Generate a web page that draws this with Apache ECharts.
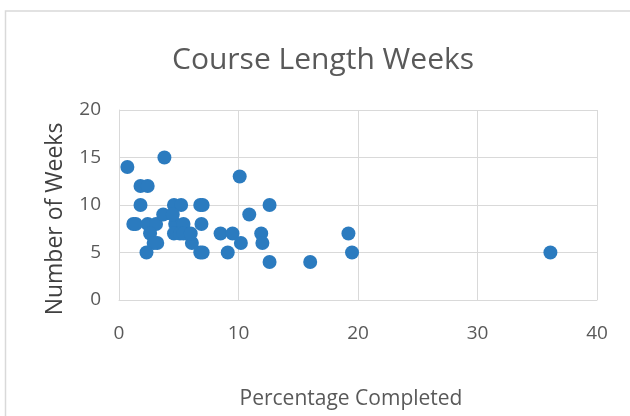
<!DOCTYPE html>
<html>
<head>
<meta charset="utf-8">
<script src="https://cdn.jsdelivr.net/npm/echarts@6/dist/echarts.min.js"></script>
<style>
  html, body { margin: 0; padding: 0; background: #fff; }
  #main { width: 630px; height: 416px; }
</style>
</head>
<body>
<div id="main"></div>
<script>
// percentage completed (x) and course length in weeks (y)
var pctCompleted = [0.7, 3.8, 1.8, 2.4, 1.8, 4.6, 5.2, 6.8, 7.0, 1.2, 1.4, 2.4, 3.1, 3.7, 4.7, 5.4, 6.9, 2.6, 3.2, 2.9, 4.6, 5.1, 5.4, 6.1, 2.3, 6.8, 7.0, 8.5, 9.1, 9.5, 10.1, 10.2, 10.9, 11.9, 12.0, 12.6, 12.6, 16.0, 19.2, 19.5, 36.1, 4.5, 6.0];
var weeks        = [14,  15,  12,  12,  10,  10,  10,  10,  10,  8,   8,   8,   8,   9,   8,   8,   8,   7,   6,   6,   7,   7,   7,   6,   5,   5,   5,   7,   5,   7,   13,   6,    9,    7,    6,    10,   4,    4,    7,    5,    5,    9,   7];
var xTicks = [0, 10, 20, 30, 40];
var yTicks = [0, 5, 10, 15, 20];

var points = [];
for (var i = 0; i < pctCompleted.length; i++) {
  points.push([pctCompleted[i], weeks[i]]);
}

var txt = '#595959';
var grid = '#d9d9d9';
var font = 'Open Sans';

var myChart = echarts.init(document.getElementById('main'));
var option = {
  animation: false,
  backgroundColor: '#fff',
  title: {
    text: 'Course Length Weeks',
    left: 167,
    top: 40,
    textStyle: { color: txt, fontSize: 30, fontWeight: 'normal', fontFamily: font }
  },
  graphic: [{
    type: 'rect',
    shape: { x: 5.5, y: 11, width: 700, height: 500 },
    style: { fill: 'none', stroke: grid, lineWidth: 1.5 },
    silent: true
  }],
  grid: { left: 119, right: 33, top: 110, bottom: 116 },
  xAxis: {
    type: 'value',
    min: xTicks[0],
    max: xTicks[xTicks.length - 1],
    interval: 10,
    name: 'Percentage Completed',
    nameLocation: 'middle',
    nameGap: 89,
    nameTextStyle: { color: txt, fontSize: 21, fontFamily: font, padding: [0, 14, 0, 0] },
    axisLine: { show: true, lineStyle: { color: grid } },
    axisTick: { show: false },
    axisLabel: { color: txt, fontSize: 19, fontFamily: font, margin: 24 },
    splitLine: { show: true, lineStyle: { color: grid, width: 1 } }
  },
  yAxis: {
    type: 'value',
    min: yTicks[0],
    max: yTicks[yTicks.length - 1],
    interval: 5,
    name: 'Number of Weeks',
    nameLocation: 'middle',
    nameGap: 52,
    nameTextStyle: { color: '#404040', fontSize: 23, fontFamily: font, padding: [0, 28, 0, 0] },
    axisLine: { show: true, lineStyle: { color: grid } },
    axisTick: { show: false },
    axisLabel: { color: txt, fontSize: 19, fontFamily: font, margin: 18 },
    splitLine: { show: true, lineStyle: { color: grid, width: 1 } }
  },
  series: [{
    type: 'scatter',
    data: points,
    symbolSize: 14,
    itemStyle: { color: '#2b7bbf', opacity: 1 }
  }]
};
myChart.setOption(option);
</script>
</body>
</html>
